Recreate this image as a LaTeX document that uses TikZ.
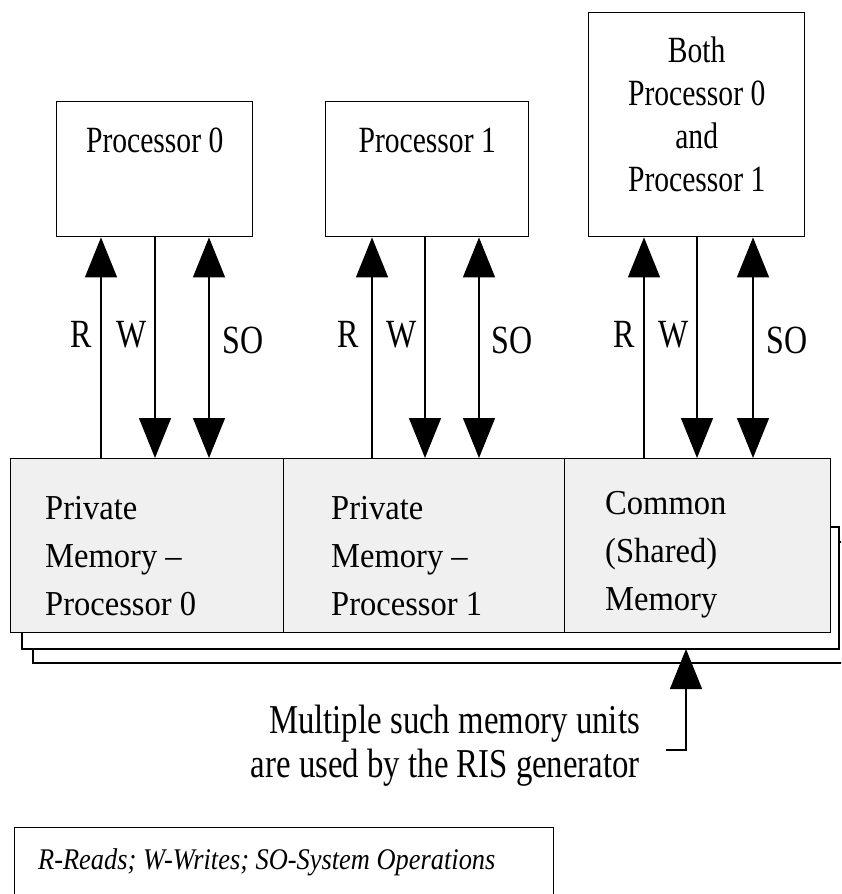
\documentclass[tikz,border=0pt]{standalone}
\usepackage{fontspec}
\setmainfont{Liberation Serif}
\usetikzlibrary{arrows.meta}
\definecolor{memgray}{HTML}{F0F0F0}
\begin{document}
\begin{tikzpicture}[x=1pt,y=-1pt,
  >={Triangle[length=40pt,width=32pt]},
  box/.style={draw, line width=1.4pt, inner sep=0pt, minimum width=#1},
  memcell/.style={box=#1, fill=memgray, minimum height=174pt},
  layer/.style={draw, line width=1.4pt, fill=white},
  conn/.style={line width=1.3pt},
  procT/.style={font=\fontsize{37}{43}\selectfont, xscale=0.8, inner sep=0pt, align=center},
  memT/.style={font=\fontsize{35}{48}\selectfont, xscale=0.93, inner sep=0pt, align=left},
  lab/.style={font=\fontsize{40}{40}\selectfont, xscale=0.8, inner sep=0pt},
  noteT/.style={font=\fontsize{41}{44}\selectfont, xscale=0.8, inner sep=0pt, align=right},
  legendT/.style={font=\itshape\fontsize{30}{30}\selectfont, xscale=0.88, inner sep=0pt}
]
\useasboundingbox (0,0) rectangle (841,894);
\clip (0,0) rectangle (841,894);

% stacked memory units behind the front one
\draw[layer] (33,542) rectangle (860,663);
\draw[layer] (22,527) rectangle (839,649);

% front memory unit, three regions
\node[memcell=273pt, anchor=north west] (m0) at (10,458) {};
\node[memcell=281pt, anchor=north west] (m1) at (283,458) {};
\node[memcell=266pt, anchor=north west] (mc) at (564,458) {};

\node[memT, anchor=north west] at (45,496) {Private\\Memory --\\Processor 0};
\node[memT, anchor=north west] at (331,496) {Private\\Memory --\\Processor 1};
\node[memT, anchor=north west] at (605,491) {Common\\(Shared)\\Memory};

% processors
\node[box=196pt, minimum height=135pt, anchor=north west] (p0) at (56,101) {};
\node[box=203pt, minimum height=135pt, anchor=north west] (p1) at (325,101) {};
\node[box=216pt, minimum height=224pt, anchor=north west] (pb) at (588,12) {};

\node[procT, anchor=base] at ([yshift=-51pt]p0.north) {Processor 0};
\node[procT, anchor=base] at ([yshift=-51pt]p1.north) {Processor 1};
\node[procT, anchor=north] at ([yshift=-25pt]pb.north) {Both\\Processor 0\\and\\Processor 1};

% read, write and system-operation paths
\foreach \p/\m/\r/\w/\s in {p0/m0/101/155/209, p1/m1/372/425/479, pb/mc/644/697/753}{
  \draw[conn,->] (\m.north -| \r,0) -- (\p.south -| \r,0);
  \draw[conn,->] (\p.south -| \w,0) -- (\m.north -| \w,0);
  \draw[conn,<->] (\p.south -| \s,0) -- (\m.north -| \s,0);
}
\foreach \x/\t/\b in {81/R/347, 132/W/347, 243/SO/353,
                      348/R/347, 402/W/347, 512/SO/353,
                      624/R/347, 674/W/347, 787/SO/353}{
  \node[lab, anchor=base] at (\x,\b) {\t};
}

% pointer to the stack of memory units
\coordinate (tick) at (666,750);
\coordinate (stem) at (686,750);
\coordinate (stacktop) at (686,649);
\draw[conn,->] (tick) -- (stem) -- (stacktop);
\node[noteT, anchor=north east] at (640,705) {Multiple such memory units\\are used by the RIS generator};

% legend
\node[draw, line width=1.4pt, anchor=north west, minimum width=539pt, minimum height=90pt, inner sep=0pt] (leg) at (14,827) {};
\node[legendT, anchor=base west] at (38,869) {R-Reads; W-Writes; SO-System Operations};
\end{tikzpicture}
\end{document}
